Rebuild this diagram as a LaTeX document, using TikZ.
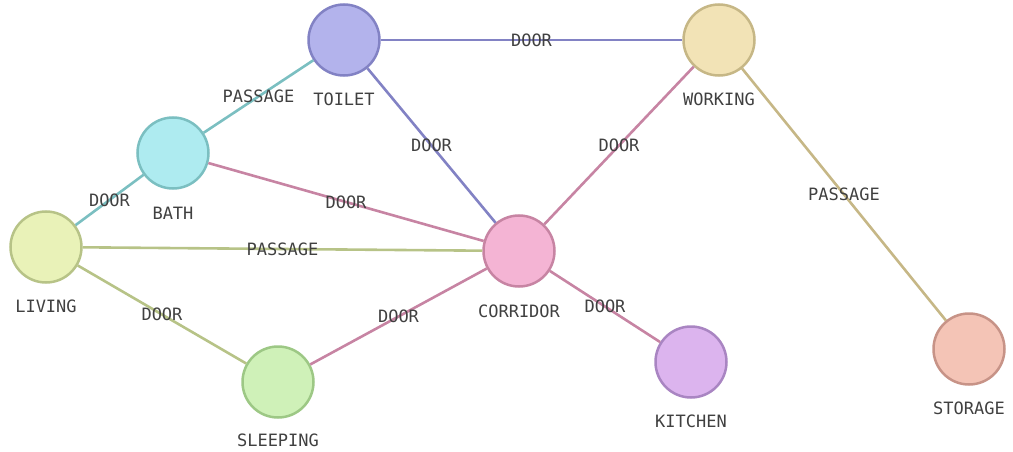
\documentclass[tikz,border=0pt]{standalone}
\usepackage{fontspec}
\setmainfont{DejaVu Sans Mono}
\definecolor{toiletF}{HTML}{B3B3EC}\definecolor{toiletD}{HTML}{8282C4}
\definecolor{workF}{HTML}{F2E3B6}\definecolor{workD}{HTML}{C6B786}
\definecolor{bathF}{HTML}{AEEBF0}\definecolor{bathD}{HTML}{7BBFC1}
\definecolor{livF}{HTML}{E9F2B8}\definecolor{livD}{HTML}{B7C387}
\definecolor{corF}{HTML}{F4B4D4}\definecolor{corD}{HTML}{C784A3}
\definecolor{sleF}{HTML}{CFF1B8}\definecolor{sleD}{HTML}{9DC885}
\definecolor{kitF}{HTML}{DCB4EE}\definecolor{kitD}{HTML}{A985C2}
\definecolor{stoF}{HTML}{F4C4B6}\definecolor{stoD}{HTML}{C79387}
\definecolor{txt}{HTML}{404040}
\tikzset{
  room/.style={circle, minimum size=71pt, inner sep=0pt, line width=2.5pt},
  rlabel/.style={text=txt, font=\fontsize{17}{19}\selectfont},
  elabel/.style={text=txt, font=\fontsize{17}{19}\selectfont, inner sep=1pt},
  edge/.style={line width=2.6pt}
}
\begin{document}
\begin{tikzpicture}[x=1pt,y=-1pt]
\useasboundingbox (0,0) rectangle (1013,452);
% nodes
\node[room, fill=toiletF, draw=toiletD] (T) at (344,40) {};
\node[room, fill=workF, draw=workD] (W) at (719,40) {};
\node[room, fill=bathF, draw=bathD] (B) at (173,153) {};
\node[room, fill=livF, draw=livD] (L) at (46,247) {};
\node[room, fill=corF, draw=corD] (C) at (519,251) {};
\node[room, fill=sleF, draw=sleD] (S) at (278,382) {};
\node[room, fill=kitF, draw=kitD] (K) at (691,362) {};
\node[room, fill=stoF, draw=stoD] (ST) at (969,349) {};
% edges
\draw[edge, toiletD] (T) -- node[elabel] (e1) {DOOR} (W);
\draw[edge, bathD] (T) -- node[elabel] (e2) {PASSAGE} (B);
\draw[edge, toiletD] (T) -- node[elabel] (e3) {DOOR} (C);
\draw[edge, corD] (W) -- node[elabel] (e4) {DOOR} (C);
\draw[edge, workD] (W) -- node[elabel] (e5) {PASSAGE} (ST);
\draw[edge, bathD] (B) -- node[elabel] (e6) {DOOR} (L);
\draw[edge, corD] (B) -- node[elabel] (e7) {DOOR} (C);
\draw[edge, livD] (L) -- node[elabel] (e8) {PASSAGE} (C);
\draw[edge, livD] (L) -- node[elabel] (e9) {DOOR} (S);
\draw[edge, corD] (S) -- node[elabel] (e10) {DOOR} (C);
\draw[edge, corD] (C) -- node[elabel] (e11) {DOOR} (K);
% room labels
\node[rlabel] (lT) at (344,99) {TOILET};
\node[rlabel] (lW) at (719,99) {WORKING};
\node[rlabel] (lB) at (173,213) {BATH};
\node[rlabel] (lL) at (46,306) {LIVING};
\node[rlabel] (lC) at (519,311) {CORRIDOR};
\node[rlabel] (lS) at (278,440) {SLEEPING};
\node[rlabel] (lK) at (691,421) {KITCHEN};
\node[rlabel] (lST) at (969,408) {STORAGE};
\end{tikzpicture}
\end{document}
